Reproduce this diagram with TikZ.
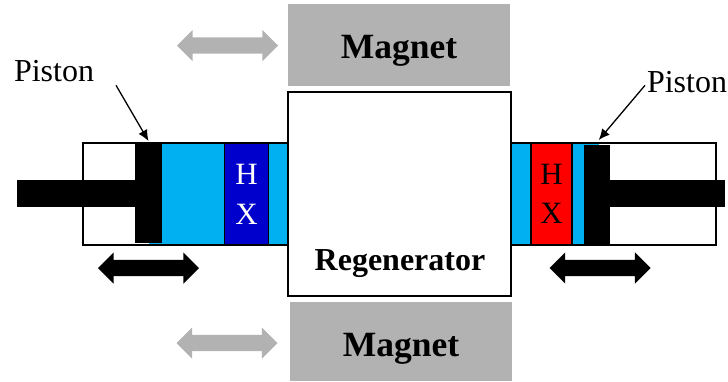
\documentclass[tikz,border=0pt]{standalone}
\usepackage{fontspec}
\setmainfont{Liberation Serif}
\usepackage{tikz}
\usetikzlibrary{shapes.arrows, arrows.meta, positioning, calc}
\definecolor{fluid}{RGB}{0,176,240}
\definecolor{coldhx}{RGB}{0,0,204}
\definecolor{hothx}{RGB}{255,0,0}
\definecolor{magnetgray}{RGB}{178,178,178}
\tikzset{
  box/.style={draw, line width=1.4pt, inner sep=0pt, outer sep=0pt, minimum width=#1},
  box/.default=10pt,
  solid part/.style={fill=black, inner sep=0pt, outer sep=0pt},
  magnet/.style={fill=magnetgray, inner sep=0pt, outer sep=0pt, font=\fontsize{35.5}{35.5}\selectfont\bfseries},
  hx/.style={draw, line width=1.4pt, inner sep=0pt, outer sep=0pt, minimum height=102pt, align=center, font=\fontsize{31}{40}\selectfont},
  motion/.style={double arrow, inner sep=0pt, outer sep=0pt, text height=16pt, text depth=0pt, minimum height=101pt, double arrow head extend=7.5pt, double arrow tip angle=90},
  label/.style={inner sep=0pt, outer sep=0pt, font=\fontsize{32}{32}\selectfont},
  pointer/.style={-{Latex[length=11pt,width=10pt]}, line width=1.3pt},
}
\begin{document}
\begin{tikzpicture}[x=1pt,y=-1pt]
\useasboundingbox (0,0) rectangle (728,381);
\node[box=205pt, minimum height=102pt] (Cyl1) at (185.5,194) {};
\node[box=205pt, minimum height=102pt] (Cyl2) at (613.5,194) {};
\node[box=139pt, minimum height=102pt, fill=fluid, draw=none] (F1) at (218.5,194) {};
\node[box=88pt, minimum height=102pt, fill=fluid, draw=none] (F2) at (555,194) {};
\draw[line width=1.4pt] (Cyl1.north west) rectangle (Cyl1.south east);
\draw[line width=1.4pt] (Cyl2.north west) rectangle (Cyl2.south east);
\node[hx, minimum width=43.5pt, fill=coldhx, text=white] (HX1) at (246.5,194) {H\\X};
\node[hx, minimum width=41pt, fill=hothx] (HX2) at (551.5,194) {\raisebox{-1pt}{H}\\X};
\node[solid part, minimum width=27pt, minimum height=100pt] (P1) at (148.5,193) {};
\node[solid part, minimum width=26.5pt, minimum height=100pt] (P2) at (596.75,195) {};
\node[solid part, left=0pt of P1, minimum width=118pt, minimum height=27pt, yshift=-0.5pt] (R1) {};
\node[solid part, right=0pt of P2, minimum width=115pt, minimum height=27pt, yshift=1.5pt] (R2) {};
% regenerator between the magnets
\node[box=223pt, minimum height=204pt, fill=white] (Reg) at (399.5,194) {};
\node[font=\fontsize{32}{32}\selectfont\bfseries, inner sep=0pt, anchor=base] (RegText) at (400,270) {Regenerator};
\node[magnet, minimum width=222pt, minimum height=82pt] (M1) at (399,45) {\raisebox{-13pt}[0pt][0pt]{Magnet}};
\node[magnet, minimum width=222pt, minimum height=79pt] (M2) at (401,341.5) {\raisebox{-14.5pt}[0pt][0pt]{Magnet}};
\node[motion, fill=magnetgray] (A1) at (227.5,45.5) {};
\node[motion, fill=magnetgray] (A2) at (227,343) {};
\node[motion, fill=black] (A3) at (148.5,268) {};
\node[motion, fill=black] (A4) at (600,268) {};
\node[label, anchor=base west] (PL1) at (14,81) {Piston};
\node[label, anchor=base west] (PL2) at (647,92) {Piston};
\draw[pointer] ($(PL1.south east)+(22,4)$) -- ($(P1.north)+(0,-2)$);
\draw[pointer] ($(PL2.south west)+(-2,-7)$) -- ($(P2.north)+(2,-5)$);
\end{tikzpicture}
\end{document}
